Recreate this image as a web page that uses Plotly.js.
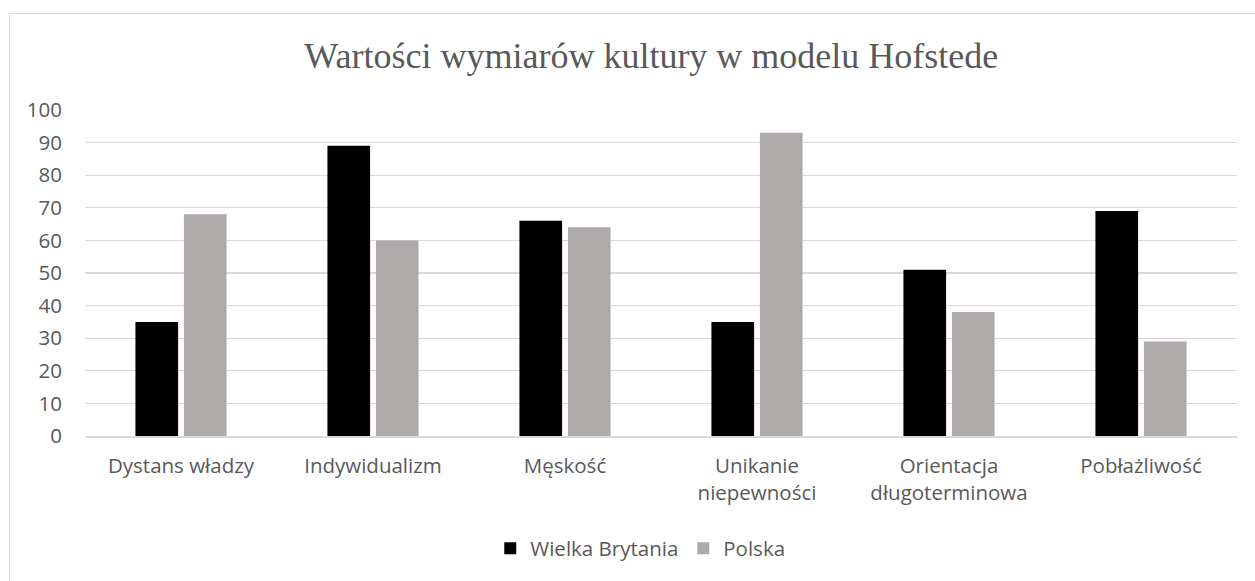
<!DOCTYPE html>
<html>
<head>
<meta charset="utf-8">
<script src="https://cdn.plot.ly/plotly-3.0.1.min.js"></script>
<style>
  html, body { margin: 0; padding: 0; background: #fff; overflow: hidden; }
  #frame { position: absolute; left: 9px; top: 13px; width: 1300px; height: 700px; border: 1px solid #d9d9d9; box-sizing: border-box; }
  #chart { position: absolute; left: 0; top: 0; width: 1255px; height: 581px; }
</style>
</head>
<body>
<div id="frame"></div>
<div id="chart"></div>
<script>
const categories = ["Dystans władzy", "Indywidualizm", "Męskość", "Unikanie<br>niepewności", "Orientacja<br>długoterminowa", "Pobłażliwość"];
const seriesNames = ["Wielka Brytania", "Polska"];
const ukValues = [35, 89, 66, 35, 51, 69];
const plValues = [68, 60, 64, 93, 38, 29];
const yTicks = [0, 10, 20, 30, 40, 50, 60, 70, 80, 90, 100];

const font = "'Open Sans', 'Noto Sans', sans-serif";

const traces = [
  { type: "bar", name: seriesNames[0], x: categories, y: ukValues, marker: { color: "#000000" }, hoverinfo: "y" },
  { type: "bar", name: seriesNames[1], x: categories, y: plValues, marker: { color: "#AEAAAA" }, hoverinfo: "y" }
];

const layout = {
  width: 1255, height: 581,
  paper_bgcolor: "rgba(0,0,0,0)",
  plot_bgcolor: "rgba(0,0,0,0)",
  margin: { l: 85, r: 18, t: 110, b: 145 },
  barmode: "group",
  bargap: 0.495,
  bargroupgap: 0.12,
  title: {
    text: "Wartości wymiarów kultury w modelu Hofstede",
    font: { family: "'Liberation Serif', 'Times New Roman', serif", size: 36, color: "#595959" },
    x: 0.519, xanchor: "center", y: 0.905, yanchor: "middle", yref: "container"
  },
  xaxis: {
    tickfont: { family: font, size: 20.5, color: "#595959" },
    showline: true, linecolor: "#d9d9d9", linewidth: 1.5,
    ticks: "", ticklabelstandoff: 11
  },
  yaxis: {
    range: [0, 100], tickvals: yTicks, ticktext: yTicks.map(String),
    tickfont: { family: font, size: 20.5, color: "#595959" },
    showgrid: true, gridcolor: "#d9d9d9", gridwidth: 1.3,
    zeroline: false, showline: false, ticks: "", ticklabelstandoff: 22,
    fixedrange: true
  },
  legend: {
    orientation: "h", x: 0.482, xanchor: "center", y: -0.345, yanchor: "middle",
    font: { family: font, size: 20.5, color: "#595959" },
    itemwidth: 30, traceorder: "normal"
  },
  showlegend: true
};

Plotly.newPlot("chart", traces, layout, { displayModeBar: false, staticPlot: true });
</script>
</body>
</html>
